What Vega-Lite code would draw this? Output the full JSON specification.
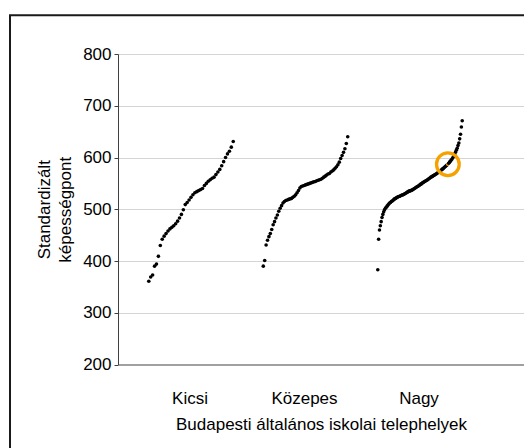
{
  "$schema": "https://vega.github.io/schema/vega-lite/v6.json",
  "width": 406,
  "height": 310.5,
  "autosize": {"type": "none"},
  "padding": {"left": 118, "top": 54, "right": 0, "bottom": 83.5},
  "background": "white",
  "config": {"view": {"stroke": null}, "font": "Liberation Sans"},
  "data": {"values": [
    {"csoport": "Kicsi", "pont": 361}, {"csoport": "Kicsi", "pont": 369}, {"csoport": "Kicsi", "pont": 373}, {"csoport": "Kicsi", "pont": 390}, {"csoport": "Kicsi", "pont": 394},
    {"csoport": "Kicsi", "pont": 409}, {"csoport": "Kicsi", "pont": 430}, {"csoport": "Kicsi", "pont": 442}, {"csoport": "Kicsi", "pont": 448}, {"csoport": "Kicsi", "pont": 453},
    {"csoport": "Kicsi", "pont": 458}, {"csoport": "Kicsi", "pont": 462}, {"csoport": "Kicsi", "pont": 465}, {"csoport": "Kicsi", "pont": 468}, {"csoport": "Kicsi", "pont": 472},
    {"csoport": "Kicsi", "pont": 477}, {"csoport": "Kicsi", "pont": 483}, {"csoport": "Kicsi", "pont": 490}, {"csoport": "Kicsi", "pont": 499}, {"csoport": "Kicsi", "pont": 509},
    {"csoport": "Kicsi", "pont": 513}, {"csoport": "Kicsi", "pont": 518}, {"csoport": "Kicsi", "pont": 523}, {"csoport": "Kicsi", "pont": 528}, {"csoport": "Kicsi", "pont": 532},
    {"csoport": "Kicsi", "pont": 534}, {"csoport": "Kicsi", "pont": 536}, {"csoport": "Kicsi", "pont": 538}, {"csoport": "Kicsi", "pont": 540}, {"csoport": "Kicsi", "pont": 546},
    {"csoport": "Kicsi", "pont": 550}, {"csoport": "Kicsi", "pont": 554}, {"csoport": "Kicsi", "pont": 557}, {"csoport": "Kicsi", "pont": 560}, {"csoport": "Kicsi", "pont": 562},
    {"csoport": "Kicsi", "pont": 567}, {"csoport": "Kicsi", "pont": 572}, {"csoport": "Kicsi", "pont": 577}, {"csoport": "Kicsi", "pont": 584}, {"csoport": "Kicsi", "pont": 592},
    {"csoport": "Kicsi", "pont": 600}, {"csoport": "Kicsi", "pont": 607}, {"csoport": "Kicsi", "pont": 612}, {"csoport": "Kicsi", "pont": 620}, {"csoport": "Kicsi", "pont": 631},
    {"csoport": "Közepes", "pont": 390}, {"csoport": "Közepes", "pont": 401}, {"csoport": "Közepes", "pont": 431}, {"csoport": "Közepes", "pont": 440}, {"csoport": "Közepes", "pont": 447},
    {"csoport": "Közepes", "pont": 453}, {"csoport": "Közepes", "pont": 461}, {"csoport": "Közepes", "pont": 470}, {"csoport": "Közepes", "pont": 476}, {"csoport": "Közepes", "pont": 483},
    {"csoport": "Közepes", "pont": 489}, {"csoport": "Közepes", "pont": 496}, {"csoport": "Közepes", "pont": 502}, {"csoport": "Közepes", "pont": 507}, {"csoport": "Közepes", "pont": 512},
    {"csoport": "Közepes", "pont": 515}, {"csoport": "Közepes", "pont": 517}, {"csoport": "Közepes", "pont": 518}, {"csoport": "Közepes", "pont": 519}, {"csoport": "Közepes", "pont": 520},
    {"csoport": "Közepes", "pont": 521}, {"csoport": "Közepes", "pont": 523}, {"csoport": "Közepes", "pont": 525}, {"csoport": "Közepes", "pont": 528}, {"csoport": "Közepes", "pont": 532},
    {"csoport": "Közepes", "pont": 536}, {"csoport": "Közepes", "pont": 541}, {"csoport": "Közepes", "pont": 544}, {"csoport": "Közepes", "pont": 545}, {"csoport": "Közepes", "pont": 546},
    {"csoport": "Közepes", "pont": 547}, {"csoport": "Közepes", "pont": 548}, {"csoport": "Közepes", "pont": 549}, {"csoport": "Közepes", "pont": 550}, {"csoport": "Közepes", "pont": 551},
    {"csoport": "Közepes", "pont": 552}, {"csoport": "Közepes", "pont": 553}, {"csoport": "Közepes", "pont": 553.5}, {"csoport": "Közepes", "pont": 555}, {"csoport": "Közepes", "pont": 556},
    {"csoport": "Közepes", "pont": 557}, {"csoport": "Közepes", "pont": 558}, {"csoport": "Közepes", "pont": 560}, {"csoport": "Közepes", "pont": 562}, {"csoport": "Közepes", "pont": 564},
    {"csoport": "Közepes", "pont": 566}, {"csoport": "Közepes", "pont": 568}, {"csoport": "Közepes", "pont": 569}, {"csoport": "Közepes", "pont": 572}, {"csoport": "Közepes", "pont": 574},
    {"csoport": "Közepes", "pont": 576}, {"csoport": "Közepes", "pont": 579}, {"csoport": "Közepes", "pont": 582}, {"csoport": "Közepes", "pont": 586}, {"csoport": "Közepes", "pont": 591},
    {"csoport": "Közepes", "pont": 598}, {"csoport": "Közepes", "pont": 604}, {"csoport": "Közepes", "pont": 610}, {"csoport": "Közepes", "pont": 617}, {"csoport": "Közepes", "pont": 627},
    {"csoport": "Közepes", "pont": 640},
    {"csoport": "Nagy", "pont": 383}, {"csoport": "Nagy", "pont": 442}, {"csoport": "Nagy", "pont": 460}, {"csoport": "Nagy", "pont": 468}, {"csoport": "Nagy", "pont": 476},
    {"csoport": "Nagy", "pont": 484}, {"csoport": "Nagy", "pont": 490}, {"csoport": "Nagy", "pont": 495}, {"csoport": "Nagy", "pont": 499}, {"csoport": "Nagy", "pont": 502},
    {"csoport": "Nagy", "pont": 504}, {"csoport": "Nagy", "pont": 506}, {"csoport": "Nagy", "pont": 508}, {"csoport": "Nagy", "pont": 510}, {"csoport": "Nagy", "pont": 512},
    {"csoport": "Nagy", "pont": 513}, {"csoport": "Nagy", "pont": 515}, {"csoport": "Nagy", "pont": 516}, {"csoport": "Nagy", "pont": 517}, {"csoport": "Nagy", "pont": 519},
    {"csoport": "Nagy", "pont": 520}, {"csoport": "Nagy", "pont": 521}, {"csoport": "Nagy", "pont": 522}, {"csoport": "Nagy", "pont": 523}, {"csoport": "Nagy", "pont": 524},
    {"csoport": "Nagy", "pont": 524.5}, {"csoport": "Nagy", "pont": 525}, {"csoport": "Nagy", "pont": 526}, {"csoport": "Nagy", "pont": 527}, {"csoport": "Nagy", "pont": 527.5},
    {"csoport": "Nagy", "pont": 528}, {"csoport": "Nagy", "pont": 529}, {"csoport": "Nagy", "pont": 530}, {"csoport": "Nagy", "pont": 531}, {"csoport": "Nagy", "pont": 532},
    {"csoport": "Nagy", "pont": 533}, {"csoport": "Nagy", "pont": 534}, {"csoport": "Nagy", "pont": 535}, {"csoport": "Nagy", "pont": 535.5}, {"csoport": "Nagy", "pont": 536},
    {"csoport": "Nagy", "pont": 536.5}, {"csoport": "Nagy", "pont": 537.5}, {"csoport": "Nagy", "pont": 538.5}, {"csoport": "Nagy", "pont": 539.5}, {"csoport": "Nagy", "pont": 540.5},
    {"csoport": "Nagy", "pont": 542}, {"csoport": "Nagy", "pont": 543}, {"csoport": "Nagy", "pont": 544}, {"csoport": "Nagy", "pont": 545}, {"csoport": "Nagy", "pont": 546},
    {"csoport": "Nagy", "pont": 547.5}, {"csoport": "Nagy", "pont": 548.5}, {"csoport": "Nagy", "pont": 549.5}, {"csoport": "Nagy", "pont": 551}, {"csoport": "Nagy", "pont": 552},
    {"csoport": "Nagy", "pont": 553}, {"csoport": "Nagy", "pont": 554}, {"csoport": "Nagy", "pont": 555}, {"csoport": "Nagy", "pont": 556}, {"csoport": "Nagy", "pont": 557},
    {"csoport": "Nagy", "pont": 558.5}, {"csoport": "Nagy", "pont": 559.5}, {"csoport": "Nagy", "pont": 561}, {"csoport": "Nagy", "pont": 562}, {"csoport": "Nagy", "pont": 563},
    {"csoport": "Nagy", "pont": 564}, {"csoport": "Nagy", "pont": 565}, {"csoport": "Nagy", "pont": 566}, {"csoport": "Nagy", "pont": 567}, {"csoport": "Nagy", "pont": 568},
    {"csoport": "Nagy", "pont": 569}, {"csoport": "Nagy", "pont": 570.5}, {"csoport": "Nagy", "pont": 572}, {"csoport": "Nagy", "pont": 573}, {"csoport": "Nagy", "pont": 574},
    {"csoport": "Nagy", "pont": 575.5}, {"csoport": "Nagy", "pont": 577}, {"csoport": "Nagy", "pont": 578}, {"csoport": "Nagy", "pont": 579.5}, {"csoport": "Nagy", "pont": 581},
    {"csoport": "Nagy", "pont": 582.5}, {"csoport": "Nagy", "pont": 584}, {"csoport": "Nagy", "pont": 585.5}, {"csoport": "Nagy", "pont": 587, "kiemelt": true}, {"csoport": "Nagy", "pont": 589},
    {"csoport": "Nagy", "pont": 591}, {"csoport": "Nagy", "pont": 593}, {"csoport": "Nagy", "pont": 595}, {"csoport": "Nagy", "pont": 597}, {"csoport": "Nagy", "pont": 600},
    {"csoport": "Nagy", "pont": 603}, {"csoport": "Nagy", "pont": 606}, {"csoport": "Nagy", "pont": 610}, {"csoport": "Nagy", "pont": 614}, {"csoport": "Nagy", "pont": 618},
    {"csoport": "Nagy", "pont": 623}, {"csoport": "Nagy", "pont": 628}, {"csoport": "Nagy", "pont": 636}, {"csoport": "Nagy", "pont": 645}, {"csoport": "Nagy", "pont": 659},
    {"csoport": "Nagy", "pont": 671}
  ]},
  "transform": [
    {"window": [{"op": "percent_rank", "as": "rang"}], "groupby": ["csoport"], "sort": [{"field": "pont", "order": "ascending"}]}
  ],
  "layer": [
    {
      "data": {"values": [{"keret": 1}]},
      "mark": {"type": "rect", "fill": null, "stroke": "#1a1a1a", "strokeWidth": 2},
      "encoding": {
        "x": {"datum": -0.266, "type": "quantitative", "scale": {"domain": [0, 1]}, "axis": null},
        "x2": {"datum": 1.5},
        "y": {"datum": 875, "type": "quantitative", "scale": {"domain": [200, 800]}},
        "y2": {"datum": 0}
      }
    },
    {
      "encoding": {
        "x": {
          "field": "csoport", "type": "nominal", "sort": ["Kicsi", "Közepes", "Nagy"],
          "scale": {"paddingInner": 0, "paddingOuter": 0.273, "align": 0.236},
          "title": "Budapesti általános iskolai telephelyek",
          "axis": {
            "labelAngle": 0, "ticks": false, "labelFontSize": 17, "labelColor": "black", "labelPadding": 26,
            "domainColor": "#808080", "domainWidth": 1.5, "grid": false,
            "titleFontSize": 17, "titleFontWeight": "normal", "titleColor": "black", "titlePadding": 10
          }
        },
        "xOffset": {"field": "rang", "type": "quantitative", "scale": {"domain": [-0.19, 1.166]}},
        "y": {
          "field": "pont", "type": "quantitative", "scale": {"domain": [200, 800]},
          "title": ["Standardizált", "képességpont"],
          "axis": {
            "values": [200, 225, 250, 275, 300, 325, 350, 375, 400, 425, 450, 475, 500, 525, 550, 575, 600, 625, 650, 675, 700, 725, 750, 775, 800],
            "labelExpr": "datum.value % 100 === 0 ? datum.label : ''",
            "tickSize": {"condition": {"test": "datum.value % 100 === 0", "value": 4}, "value": 3},
            "tickColor": "#404040",
            "domainColor": "#404040",
            "grid": true,
            "gridColor": "#d4d4d4",
            "gridOpacity": {"condition": {"test": "datum.value % 100 === 0 && datum.value > 200", "value": 1}, "value": 0},
            "labelFontSize": 17, "labelColor": "black", "labelPadding": 3,
            "titleFontSize": 17, "titleFontWeight": "normal", "titleColor": "black", "titlePadding": 8, "titleLineHeight": 21
          }
        }
      },
      "layer": [
        {
          "mark": {"type": "point", "shape": "circle", "filled": true, "size": 13, "opacity": 1},
          "encoding": {
            "color": {"condition": {"test": "datum.kiemelt", "value": "#f5a200"}, "value": "black"}
          }
        },
        {
          "transform": [{"filter": "datum.kiemelt"}],
          "mark": {"type": "point", "shape": "circle", "filled": false, "size": 515, "stroke": "#f5a200", "strokeWidth": 3.3, "opacity": 1}
        }
      ]
    }
  ],
  "resolve": {"scale": {"x": "independent"}}
}
